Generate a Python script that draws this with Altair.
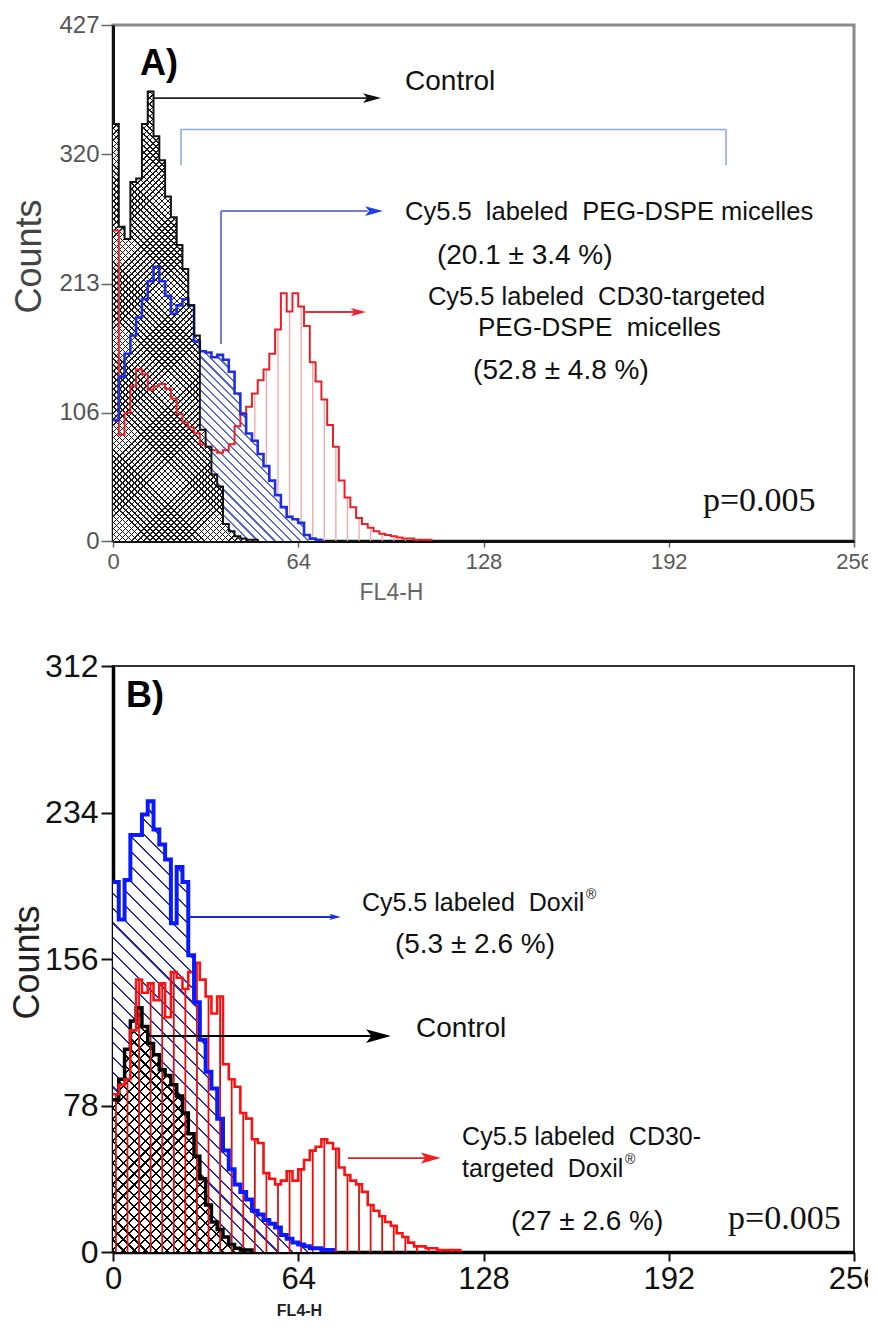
import math
import altair as alt
import pandas as pd

# ---------------- data (counts per FL4-H channel, bins of width 2) ----------------
BINS = list(range(0, 132, 2))

A_CONTROL = [345, 260, 250, 297, 300, 345, 372, 335, 315, 285, 268, 245, 225, 195, 170,
             92, 78, 55, 45, 14, 8, 4, 2, 1, 1]
A_MICELLES = [100, 136, 155, 170, 185, 200, 215, 227, 215, 203, 188, 195, 200, 195, 165,
              157, 156, 152, 154, 150, 140, 122, 105, 89, 83, 72, 62, 50, 38, 28, 20, 18,
              15, 5, 2, 1]
A_TARGETED = [257, 88, 106, 128, 142, 138, 125, 128, 130, 126, 118, 105, 98, 94, 89, 80,
              78, 75, 73, 75, 80, 95, 106, 111, 122, 133, 142, 155, 175, 205, 190, 205,
              194, 178, 148, 132, 117, 96, 78, 50, 36, 28, 19, 14, 11, 8, 6, 5, 4, 3, 2,
              2, 1, 1, 1]

B_CONTROL = [81, 92, 108, 123, 130, 120, 111, 105, 97, 94, 89, 83, 74, 63, 51, 39, 25,
             16, 12, 8, 4, 2, 1, 1]
B_DOXIL = [197, 177, 198, 222, 222, 233, 240, 225, 217, 209, 175, 205, 197, 158, 133, 113,
           96, 87, 71, 54, 44, 36, 32, 28, 22, 20, 17, 15, 13, 9, 7, 5, 4, 3, 2, 2, 1, 1]
B_TARGETED = [84, 89, 92, 118, 145, 138, 143, 134, 143, 125, 149, 146, 140, 149, 154, 145,
              136, 127, 136, 100, 92, 88, 74, 71, 60, 58, 42, 39, 36, 38, 43, 38, 44, 49,
              54, 56, 60, 58, 55, 45, 41, 38, 36, 32, 25, 22, 19, 16, 14, 10, 8, 5, 3, 3,
              2, 2, 1, 1, 1, 1]

XTICKS = [0, 64, 128, 192, 256]
A_YTICKS = [0, 106, 213, 320, 427]
B_YTICKS = [0, 78, 156, 234, 312]

NB = "\u00a0"
# annotation texts: (x, y, text, size, font, weight, color)
A_TEXTS = [
    (9.3, 394.7, "A)", 36, "Liberation Sans", "bold", "#000"),
    (100.9, 380, "Control", 28, "Liberation Sans", "normal", "#111"),
    (100.9, 272.3, "Cy5.5" + NB + NB + "labeled" + NB + NB + "PEG-DSPE micelles", 25.5,
     "Liberation Sans", "normal", "#111"),
    (111.9, 235.8, "(20.1 \u00b1 3.4 %)", 28, "Liberation Sans", "normal", "#111"),
    (108.8, 201.9, "Cy5.5 labeled" + NB + NB + "CD30-targeted", 25.5, "Liberation Sans", "normal", "#111"),
    (126.1, 176.3, "PEG-DSPE" + NB + NB + "micelles", 26, "Liberation Sans", "normal", "#111"),
    (124.4, 140.7, "(52.8 \u00b1 4.8 %)", 28, "Liberation Sans", "normal", "#111"),
    (203.8, 33.5, "p=0.005", 34, "Liberation Serif", "normal", "#111"),
]
B_TEXTS = [
    (4.5, 296, "B)", 36, "Liberation Sans", "bold", "#000"),
    (86.0, 185.6, "Cy5.5 labeled" + NB + NB + "Doxil", 25, "Liberation Sans", "normal", "#111"),
    (163.4, 190.0, "\u00ae", 14, "Liberation Sans", "normal", "#111"),
    (97.4, 163.5, "(5.3 \u00b1 2.6 %)", 28, "Liberation Sans", "normal", "#111"),
    (104.7, 118.7, "Control", 28, "Liberation Sans", "normal", "#111"),
    (120.6, 61.2, "Cy5.5 labeled" + NB + NB + "CD30-", 25, "Liberation Sans", "normal", "#111"),
    (120.6, 44.2, "targeted" + NB + NB + "Doxil", 25, "Liberation Sans", "normal", "#111"),
    (176.9, 49.0, "\u00ae", 14, "Liberation Sans", "normal", "#111"),
    (137.5, 16.0, "(27 \u00b1 2.6 %)", 28, "Liberation Sans", "normal", "#111"),
    (212.5, 17.5, "p=0.005", 34, "Liberation Serif", "normal", "#111"),
]

# arrows: horizontal segments (x, x2, y, color, width), vertical (x, y, y2, color, width)
A_HLINES = [
    (13.8, 89.5, 366.5, "#222222", 1.6),
    (23.5, 211.8, 340.5, "#93a8e2", 1.6),
    (37.3, 88.0, 273.0, "#6f7cd2", 2.0),
    (66.4, 85.0, 189.5, "#e8303a", 2.0),
]
A_VLINES = [
    (23.5, 311.0, 340.5, "#93a8e2", 1.6),
    (211.8, 311.0, 340.5, "#93a8e2", 1.6),
    (37.3, 163.0, 273.0, "#6f7cd2", 2.0),
]
# arrow heads: (x, y, color, size)
A_HEADS = [
    (89.5, 366.5, "#111111", 324),
    (90.2, 273.0, "#1f3fe8", 324),
    (84.8, 189.5, "#f02030", 225),
]
B_HLINES = [
    (25.9, 77.0, 178.4, "#1a2ad0", 2.0),
    (12.1, 92.0, 115.0, "#000000", 2.0),
    (81.2, 110.0, 50.0, "#e02020", 1.6),
]
B_HEADS = [
    (76.7, 178.4, "#1530e0", 130),
    (91.7, 115.0, "#000000", 625),
    (109.8, 50.0, "#f02020", 400),
]

# ---------------- helpers ----------------
W = 741
HA, HB = 516, 586
ARROW = "M1,0L-1,-0.55L-0.55,0L-1,0.55Z"


def pad(vals):
    return list(vals) + [0] * (len(BINS) - len(vals))


def series_frame(vals):
    v = pad(vals)
    last = max(i for i, c in enumerate(v) if c > 0)
    n = min(last + 2, len(BINS))
    return pd.DataFrame({"x": BINS[:n], "y": v[:n]})


def hatch(color, bg, spacing, frac, w, h, kind):
    n = max(1, int(round((w + h) / (math.sqrt(2) * spacing))))
    s = (w + h) / (w * w + h * h)
    if kind == "back":
        x1, y1, x2, y2 = 0, 1, s * w, 1 - s * h
    else:
        x1, y1, x2, y2 = 0, 0, s * w, s * h
    stops = []
    for i in range(n):
        a = i / n
        b = (i + frac) / n
        c = (i + 1) / n
        stops += [
            {"color": color, "offset": round(a, 6)},
            {"color": color, "offset": round(b, 6)},
            {"color": bg, "offset": round(b, 6)},
            {"color": bg, "offset": round(c, 6)},
        ]
    return {"gradient": "linear", "stops": stops,
            "x1": round(x1, 5), "y1": round(y1, 5), "x2": round(x2, 5), "y2": round(y2, 5)}


def make_panel(cfg):
    ymax, H = cfg["ymax"], cfg["H"]
    X = alt.X("x:Q", scale=alt.Scale(domain=[0, 256], nice=False, zero=False), axis=cfg["xaxis"])
    Y = alt.Y("y:Q", scale=alt.Scale(domain=[0, ymax], nice=False, zero=False), axis=cfg["yaxis"])

    def px(df):
        return float(df["x"].max()) * W / 256, float(df["y"].max()) * H / ymax

    def area(vals, fill):
        df = series_frame(vals)
        return alt.Chart(df).mark_area(interpolate="step-after", fill=fill, opacity=1,
                                       strokeWidth=0).encode(x=X, y=Y)

    def hatched(vals, color, bg, spacing, frac, kind):
        df = series_frame(vals)
        w, h = px(df)
        return area(vals, hatch(color, bg, spacing, frac, w, h, kind))

    def line(vals, color, width):
        df = series_frame(vals)
        return alt.Chart(df).mark_line(interpolate="step-after", color=color,
                                       strokeWidth=width).encode(x=X, y=Y)

    def vrules(vals, every, color, width):
        v = pad(vals)
        rows = [{"x": BINS[i] + 1, "y": v[i], "y0": 0}
                for i in range(0, len(BINS), every) if v[i] > 0]
        return alt.Chart(pd.DataFrame(rows)).mark_rule(color=color, strokeWidth=width).encode(
            x=X, y=Y, y2=alt.Y2("y0:Q"))

    layers = []
    for kind, spec in cfg["order"]:
        if kind == "rules":
            layers.append(vrules(*spec))
        elif kind == "hatch":
            layers.append(hatched(*spec))
        elif kind == "line":
            layers.append(line(*spec))

    for (x, x2, y, c, sw) in cfg["hlines"]:
        layers.append(alt.Chart(pd.DataFrame([{"x": x, "x2": x2, "y": y}])).mark_rule(
            color=c, strokeWidth=sw).encode(x=X, x2=alt.X2("x2:Q"), y=Y))
    for (x, y, y2, c, sw) in cfg["vlines"]:
        layers.append(alt.Chart(pd.DataFrame([{"x": x, "y": y, "y2": y2}])).mark_rule(
            color=c, strokeWidth=sw).encode(x=X, y=Y, y2=alt.Y2("y2:Q")))
    for (x, y, c, size) in cfg["heads"]:
        layers.append(alt.Chart(pd.DataFrame([{"x": x, "y": y}])).mark_point(
            shape=ARROW, filled=True, size=size, color=c, opacity=1, strokeWidth=0).encode(x=X, y=Y))
    for (x, y, t, fs, font, weight, c) in cfg["texts"]:
        layers.append(alt.Chart(pd.DataFrame([{"x": x, "y": y, "t": t}])).mark_text(
            align="left", baseline="middle", font=font, fontSize=fs, fontWeight=weight,
            color=c).encode(x=X, y=Y, text="t:N"))

    return alt.layer(*layers).properties(
        width=W, height=H,
        view=alt.ViewBackground(stroke=cfg["frame"], strokeWidth=cfg["frame_w"], fill="white"))


# ---------------- panel A ----------------
xaxis_a = alt.Axis(values=XTICKS, labelFont="Liberation Sans", labelFontSize=22, labelColor="#5a5a5a",
                   tickColor="#666666", tickSize=6, tickWidth=1.5, domainColor="#111111", domainWidth=3,
                   labelFlush=False, labelPadding=4, grid=False, title="FL4-H",
                   titleFont="Liberation Sans", titleFontSize=23, titleFontWeight="normal",
                   titleColor="#666666", titleX=278, titleY=51, titleBaseline="middle", titleAlign="center")
yaxis_a = alt.Axis(values=A_YTICKS, labelFont="Liberation Sans", labelFontSize=24, labelColor="#555555",
                   tickColor="#666666", tickSize=12, tickWidth=1.5, domainColor="#111111", domainWidth=3,
                   labelPadding=2, grid=False, title="Counts", titleFont="Liberation Sans",
                   titleFontSize=36, titleFontWeight="normal", titleColor="#444444",
                   titleX=-84, titleY=231, titleBaseline="middle", titleAlign="center")

panel_a = make_panel({
    "ymax": 427, "H": HA, "xaxis": xaxis_a, "yaxis": yaxis_a,
    "order": [
        ("rules", (A_TARGETED, 2, "#f3a3a3", 1.3)),
        ("hatch", (A_MICELLES, "#5b6ad6", "#ffffff", 6.0, 0.25, "back")),
        ("hatch", (A_CONTROL, "#1a1a1a", "#ffffff", 4.3, 0.27, "back")),
        ("hatch", (A_CONTROL, "#1a1a1a", "rgba(0,0,0,0)", 4.3, 0.27, "fwd")),
        ("line", (A_TARGETED, "#e8202a", 2.0)),
        ("line", (A_MICELLES, "#1f2fe0", 2.6)),
        ("line", (A_CONTROL, "#111111", 2.0)),
    ],
    "hlines": A_HLINES, "vlines": A_VLINES, "heads": A_HEADS, "texts": A_TEXTS,
    "frame": "#8a8a8a", "frame_w": 3,
})

# ---------------- panel B ----------------
xaxis_b = alt.Axis(values=XTICKS, labelFont="Liberation Sans", labelFontSize=31, labelColor="#111111",
                   tickColor="#111111", tickSize=9, tickWidth=2, domainColor="#000000", domainWidth=3.5,
                   labelFlush=False, labelPadding=3, grid=False, title="FL4-H",
                   titleFont="Liberation Sans", titleFontSize=16, titleFontWeight="bold",
                   titleColor="#222222", titleX=186, titleY=58, titleBaseline="middle", titleAlign="center")
yaxis_b = alt.Axis(values=B_YTICKS, labelFont="Liberation Sans", labelFontSize=32, labelColor="#111111",
                   tickColor="#111111", tickSize=12, tickWidth=2, domainColor="#000000", domainWidth=3.5,
                   labelPadding=3, grid=False, title="Counts", titleFont="Liberation Sans",
                   titleFontSize=36, titleFontWeight="normal", titleColor="#222222",
                   titleX=-86, titleY=296, titleBaseline="middle", titleAlign="center")

panel_b = make_panel({
    "ymax": 312, "H": HB, "xaxis": xaxis_b, "yaxis": yaxis_b,
    "order": [
        ("hatch", (B_DOXIL, "#2b2bb0", "#ffffff", 10.6, 0.14, "back")),
        ("hatch", (B_CONTROL, "#000000", "#ffffff", 7.8, 0.2, "back")),
        ("hatch", (B_CONTROL, "#000000", "rgba(0,0,0,0)", 7.8, 0.2, "fwd")),
        ("rules", (B_TARGETED, 2, "#e01010", 1.8)),
        ("line", (B_CONTROL, "#000000", 3.5)),
        ("line", (B_TARGETED, "#ff1010", 2.6)),
        ("line", (B_DOXIL, "#0a1aff", 4.0)),
    ],
    "hlines": B_HLINES, "vlines": [], "heads": B_HEADS, "texts": B_TEXTS,
    "frame": "#333333", "frame_w": 2,
})

chart = alt.vconcat(panel_a, panel_b, spacing=43).resolve_scale(
    x="independent", y="independent").properties(
    padding={"left": 0, "top": 3, "right": -13, "bottom": 0},
    background="white")

chart.save("out.html", embed_options={"renderer": "svg", "actions": False})
